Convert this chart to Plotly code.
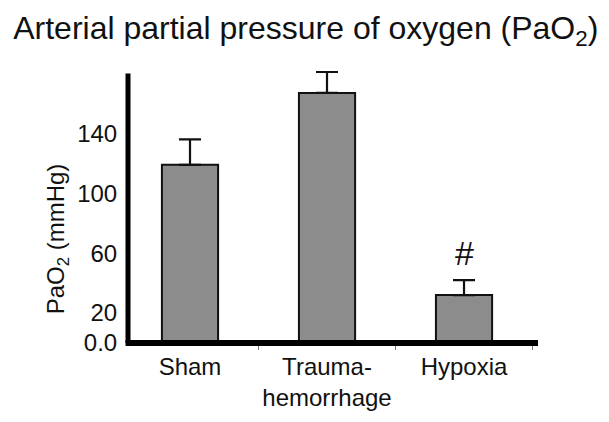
import plotly.graph_objects as go

categories = ["Sham", "Trauma-<br>hemorrhage", "Hypoxia"]
pao2_mean = [119, 167, 32]
pao2_sem = [17, 14, 10]
lower_err = [0, 0, 0]
tick_vals = [0, 20, 60, 100, 140]
tick_text = ["0.0", "20", "60", "100", "140"]
sig_marks = ["", "", "#"]
y_axis_top = 180

FONT = "Liberation Sans, Arial, sans-serif"
INK = "#111111"

fig = go.Figure()
fig.add_trace(go.Bar(
    x=categories, y=pao2_mean,
    width=0.41,
    marker=dict(color="#8c8c8c", line=dict(color=INK, width=2)),
    error_y=dict(type="data", symmetric=False, array=pao2_sem, arrayminus=lower_err,
                 color=INK, thickness=2.2, width=11),
))

for i, m in enumerate(sig_marks):
    if m:
        fig.add_annotation(x=categories[i], y=pao2_mean[i] + pao2_sem[i], text=m, showarrow=False,
                           yanchor="middle", yshift=27,
                           font=dict(family=FONT, size=34, color=INK))

# axis lines (left axis stops below the plot top, as in the original)
fig.add_shape(type="line", xref="paper", yref="y", x0=0, x1=0, y0=0, y1=y_axis_top,
              line=dict(color="#000000", width=5), layer="above")
fig.add_shape(type="line", xref="paper", yref="paper", x0=-0.006, x1=1, y0=0, y1=0,
              line=dict(color="#000000", width=6), layer="above")

fig.update_layout(
    width=609, height=422,
    margin=dict(l=120, r=79, t=60.8, b=86.7, autoexpand=False),
    paper_bgcolor="white", plot_bgcolor="white",
    showlegend=False,
    font=dict(family=FONT, color=INK),
    title=dict(text="Arterial partial pressure of oxygen (PaO<sub>2</sub>)",
               x=0.489, xref="container", xanchor="center",
               y=0.953, yref="container", yanchor="middle",
               font=dict(family=FONT, size=32, color=INK)),
)
fig.update_xaxes(
    type="category",
    range=[-0.4526, 2.54],
    automargin=False, tickangle=0,
    showline=False, showgrid=False, zeroline=False,
    tickson="boundaries", ticks="outside", ticklen=6, tickwidth=1, tickcolor="#777777",
    ticklabelstandoff=7,
    tickfont=dict(family=FONT, size=24, color=INK),
)
fig.update_yaxes(
    range=[0, 183], automargin=False,
    tickvals=tick_vals, ticktext=tick_text,
    showline=False, showgrid=False, zeroline=False,
    ticks="outside", ticklen=5, tickcolor="rgba(0,0,0,0)",
    tickfont=dict(family=FONT, size=24, color=INK),
)
fig.add_annotation(xref="paper", yref="paper", x=-0.172, y=0.380,
                   xanchor="center", yanchor="middle",
                   text="PaO<sub>2</sub> (mmHg)", textangle=-90, showarrow=False,
                   font=dict(family=FONT, size=24, color=INK))

fig.write_html("out.html")
